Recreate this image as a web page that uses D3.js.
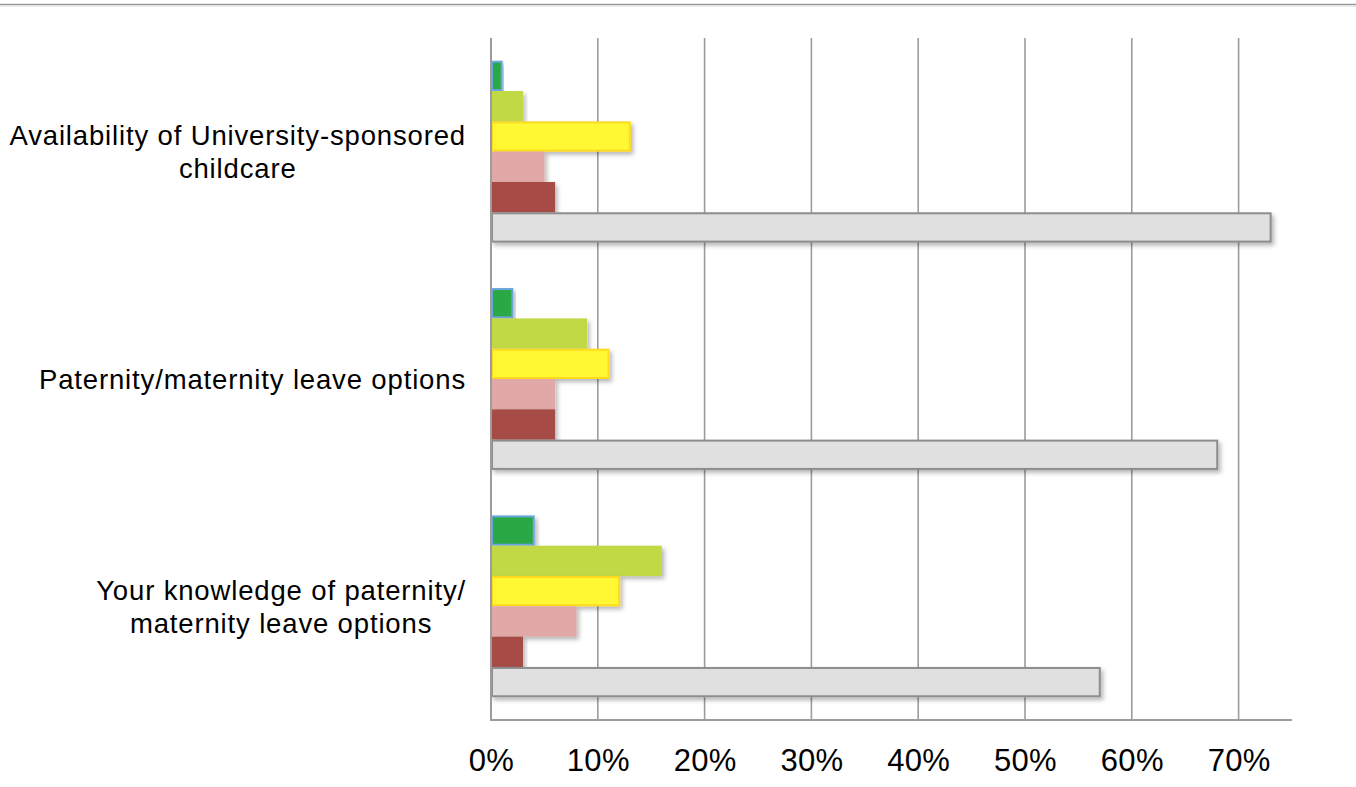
<!DOCTYPE html>
<html>
<head>
<meta charset="utf-8">
<script src="https://cdn.jsdelivr.net/npm/d3@7"></script>
<style>
  html, body { margin: 0; padding: 0; background: #fff; }
  svg { display: block; font-family: Helvetica, Arial, "Liberation Sans", sans-serif; }
</style>
</head>
<body>
<svg id="chart" width="1356" height="787"></svg>
<script>
// Survey items, top to bottom
const categories = [
  "Availability of University-sponsored childcare",
  "Paternity/maternity leave options",
  "Your knowledge of paternity/ maternity leave options"
];
// Line breaks used for the item labels
const categoryLines = [
  ["Availability of University-sponsored", "childcare"],
  ["Paternity/maternity leave options"],
  ["Your knowledge of paternity/", "maternity leave options"]
];
// Response series, drawn top to bottom inside each group (percent)
const seriesNames = ["s1", "s2", "s3", "s4", "s5", "s6"];
const series1 = [1, 2, 4];
const series2 = [3, 9, 16];
const series3 = [13, 11, 12];
const series4 = [5, 6, 8];
const series5 = [6, 6, 3];
const series6 = [73, 68, 57];
const seriesValues = [series1, series2, series3, series4, series5, series6];
const seriesFill   = ["#2ba845", "#c1d944", "#fff833", "#e0a8a6", "#a64b45", "#e0e0e0"];
const seriesStroke = ["#6aa6de", "none", "#ffd91e", "none", "none", "#8d8d8d"];
const tickValues = [0, 10, 20, 30, 40, 50, 60, 70];
const tickLabels = ["0%", "10%", "20%", "30%", "40%", "50%", "60%", "70%"];

const svg = d3.select("#chart");

const plot = { left: 491, right: 1292, top: 38, bottom: 720 };

const x = d3.scaleLinear().domain([0, 75]).range([plot.left, plot.right]);
const y0 = d3.scaleBand().domain(categories).range([plot.top, plot.bottom])
  .paddingInner(0.2).paddingOuter(0.1);
const y1 = d3.scaleBand().domain(seriesNames).range([0, y0.bandwidth()]).padding(0);

// Drop shadow for the bars
const defs = svg.append("defs");
const f = defs.append("filter").attr("id", "shadow")
  .attr("x", "-5%").attr("y", "-20%").attr("width", "120%").attr("height", "160%");
f.append("feDropShadow").attr("dx", 2.5).attr("dy", 3).attr("stdDeviation", 2)
  .attr("flood-color", "#000").attr("flood-opacity", 0.28);

// Rule across the top of the page
svg.append("line").attr("x1", 0).attr("x2", 1356).attr("y1", 4.5).attr("y2", 4.5)
  .attr("stroke", "#9a9a9a").attr("stroke-width", 1.5);
svg.append("line").attr("x1", 0).attr("x2", 1356).attr("y1", 6).attr("y2", 6)
  .attr("stroke", "#dcdcdc").attr("stroke-width", 1);

// Vertical gridlines
svg.append("g").selectAll("line").data(tickValues.filter(d => d > 0)).join("line")
  .attr("x1", d => x(d)).attr("x2", d => x(d))
  .attr("y1", plot.top).attr("y2", plot.bottom)
  .attr("stroke", "#9c9c9c").attr("stroke-width", 1.6);

// Bars
const groups = svg.append("g").selectAll("g").data(categories).join("g")
  .attr("transform", d => `translate(0,${y0(d)})`);

groups.each(function(cat, ci) {
  const g = d3.select(this);
  seriesNames.forEach((s, si) => {
    const v = seriesValues[si][ci];
    const hasStroke = seriesStroke[si] !== "none";
    const inset = hasStroke ? 1 : 0;
    g.append("rect")
      .attr("x", x(0) + inset)
      .attr("y", y1(s) + inset)
      .attr("width", x(v) - x(0) - inset)
      .attr("height", y1.bandwidth() - 2 * inset)
      .attr("fill", seriesFill[si])
      .attr("stroke", seriesStroke[si])
      .attr("stroke-width", hasStroke ? 2 : 0)
      .attr("filter", "url(#shadow)");
  });
});

// Axes lines
svg.append("line").attr("x1", plot.left).attr("x2", plot.left)
  .attr("y1", plot.top).attr("y2", plot.bottom + 1)
  .attr("stroke", "#9c9c9c").attr("stroke-width", 2);
svg.append("line").attr("x1", plot.left).attr("x2", plot.right)
  .attr("y1", plot.bottom).attr("y2", plot.bottom)
  .attr("stroke", "#9c9c9c").attr("stroke-width", 2);

// X tick labels
const xAxis = d3.axisBottom(x).tickValues(tickValues)
  .tickFormat((d, i) => tickLabels[i]).tickSize(0).tickPadding(0);
const ax = svg.append("g").attr("transform", `translate(0,${plot.bottom})`).call(xAxis);
ax.select(".domain").remove();
ax.selectAll("text")
  .attr("dy", null).attr("y", 51)
  .attr("font-size", 31).attr("letter-spacing", 0.3).attr("fill", "#000")
  .attr("font-family", "Helvetica, Arial, 'Liberation Sans', sans-serif");

// Category labels: lines centred within a block right-aligned at the axis
const labelRight = 466;
const lineH = 33;
const labels = svg.append("g").attr("font-size", 27.5).attr("letter-spacing", 0.85).attr("fill", "#000");
categories.forEach((cat, ci) => {
  const lines = categoryLines[ci];
  const cy = y0(cat) + y0.bandwidth() / 2;
  const t = labels.append("text").attr("text-anchor", "middle");
  const spans = lines.map((ln, li) => t.append("tspan").text(ln)
    .attr("y", cy + 10 - (lines.length - 1) * lineH / 2 + li * lineH));
  const maxW = d3.max(spans, sp => sp.node().getComputedTextLength());
  spans.forEach(sp => sp.attr("x", labelRight - maxW / 2));
});
</script>
</body>
</html>
